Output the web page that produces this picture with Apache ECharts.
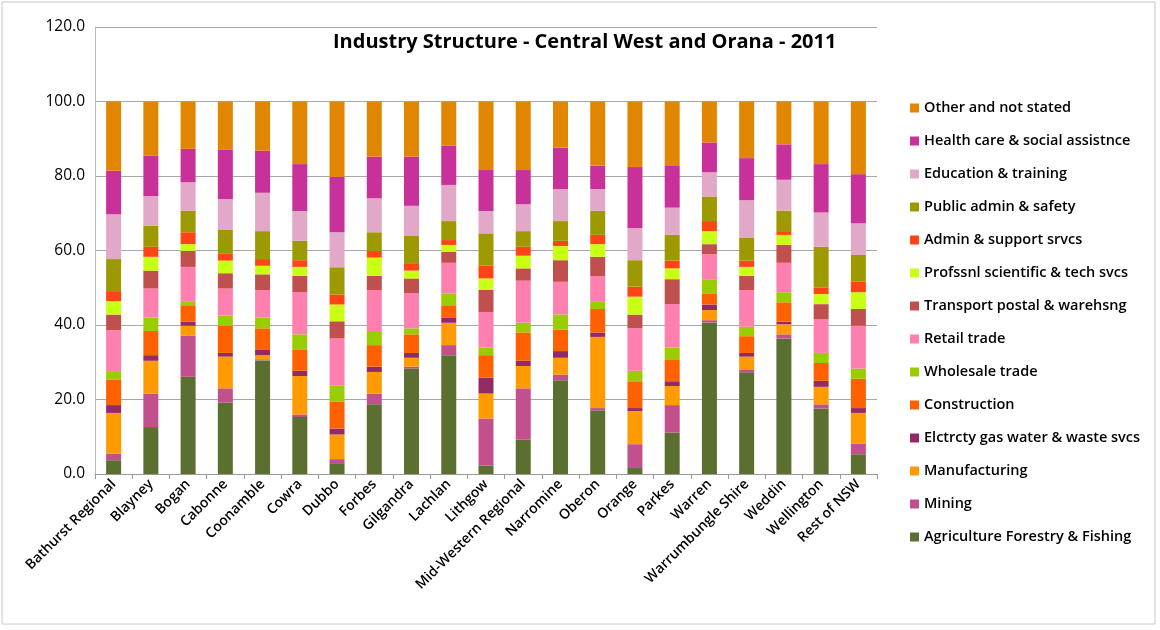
<!DOCTYPE html>
<html><head><meta charset="utf-8">
<script src="https://cdn.jsdelivr.net/npm/echarts@6/dist/echarts.min.js"></script>
<style>html,body{margin:0;padding:0;background:#fff}#c{width:1160px;height:630px}</style>
</head><body><div id="c"></div>
<script>
const categories = ["Bathurst Regional","Blayney","Bogan","Cabonne","Coonamble","Cowra","Dubbo","Forbes","Gilgandra","Lachlan","Lithgow","Mid-Western Regional","Narromine","Oberon","Orange","Parkes","Warren","Warrumbungle Shire","Weddin","Wellington","Rest of NSW"];
const seriesNames = ["Agriculture Forestry & Fishing","Mining","Manufacturing","Elctrcty gas water & waste svcs","Construction","Wholesale trade","Retail trade","Transport postal & warehsng","Profssnl scientific & tech svcs","Admin & support srvcs","Public admin & safety","Education & training","Health care & social assistnce","Other and not stated"];
const agri = [3.7,12.6,26.1,19.2,30.5,15.3,2.9,18.7,28.3,31.9,2.3,9.2,25.2,17.1,1.6,11.1,40.7,27.3,36.4,17.6,5.3];
const mining = [1.8,9.0,11.0,3.8,0.3,0.7,1.1,2.9,0.5,2.7,12.6,13.8,1.5,0.6,6.4,7.4,0.6,0.8,1.1,1.1,2.9];
const manuf = [10.9,8.8,2.7,8.5,1.1,10.3,6.6,5.8,2.4,6.0,6.7,6.0,4.5,19.1,8.9,5.1,2.7,3.4,2.7,4.7,8.2];
const elec = [2.1,1.5,1.1,1.0,1.4,1.4,1.6,1.4,1.3,1.3,4.3,1.4,1.8,1.2,0.8,1.3,1.5,1.0,0.7,1.6,1.3];
const constr = [6.9,6.5,4.4,7.3,5.8,5.6,7.3,5.8,5.0,3.4,6.0,7.6,5.8,6.3,7.2,5.9,3.0,4.5,5.2,4.8,7.9];
const wholesale = [2.0,3.6,0.9,2.7,2.9,4.2,4.2,3.8,1.6,3.2,2.0,2.6,4.0,2.1,2.8,3.1,3.8,2.5,2.7,2.7,2.7];
const retail = [11.2,7.8,9.4,7.3,7.4,11.3,12.7,11.0,9.4,8.2,9.6,11.3,8.8,6.7,11.4,11.7,6.7,9.9,7.9,9.0,11.5];
const transport = [4.2,4.8,4.3,4.1,4.2,4.4,4.6,3.8,4.0,3.0,5.9,3.3,5.8,5.2,3.7,6.7,2.7,3.8,4.8,4.1,4.5];
const prof = [3.6,3.7,1.8,3.4,2.3,2.4,4.5,4.9,2.1,1.8,3.1,3.4,3.8,3.4,4.8,2.9,3.5,2.4,2.7,2.7,4.5];
const admin = [2.7,2.7,3.2,1.8,1.8,1.8,2.7,1.8,2.0,1.3,3.4,2.4,1.4,2.5,2.7,2.1,2.7,1.7,1.0,1.8,2.8];
const publicAdmin = [8.6,5.7,5.8,6.4,7.5,5.2,7.3,5.0,7.3,5.1,8.7,4.2,5.3,6.5,7.1,6.9,6.6,6.2,5.5,10.9,7.2];
const education = [12.0,7.9,7.6,8.3,10.3,8.0,9.4,9.1,8.1,9.7,6.0,7.2,8.6,5.8,8.6,7.3,6.5,10.0,8.3,9.2,8.5];
const health = [11.7,10.9,9.0,13.2,11.3,12.6,14.9,11.2,13.2,10.6,11.0,9.2,11.1,6.3,16.4,11.2,8.0,11.3,9.5,13.0,13.2];
const other = [18.6,14.5,12.7,13.0,13.2,16.8,20.2,14.8,14.8,11.8,18.4,18.4,12.4,17.2,17.6,17.3,11.0,15.2,11.5,16.8,19.5];
const yTicks = [0,20,40,60,80,100,120];

const allData = [agri,mining,manuf,elec,constr,wholesale,retail,transport,prof,admin,publicAdmin,education,health,other];
const colors = ["#5b6f30","#c2508d","#ff9a00","#922a64","#ff6000","#9acd00","#ff7fae","#c0504d","#c8ff14","#ff4515","#9c9a00","#e2a8c8","#c8309a","#e08600"];
const font = "'Open Sans', 'Liberation Sans', sans-serif";

const chart = echarts.init(document.getElementById('c'));
chart.setOption({
  animation: false,
  color: colors,
  title: {
    text: 'Industry Structure - Central West and Orana - 2011',
    left: 328, top: 27,
    textStyle: {fontFamily: font, fontSize: 20, fontWeight: 'bold', color: '#000'}
  },
  graphic: [{type: 'rect', shape: {x: 2, y: 2, width: 1153, height: 622}, style: {fill: 'none', stroke: '#c8c8c8', lineWidth: 1}, silent: true}],
  legend: {
    orient: 'vertical', left: 905, top: 95,
    data: seriesNames.slice().reverse(),
    icon: 'rect', itemWidth: 9, itemHeight: 9, itemGap: 17,
    textStyle: {fontFamily: font, fontSize: 14.5, fontWeight: 600, color: '#000', lineHeight: 16}
  },
  grid: {left: 95, right: 283, top: 27, bottom: 156},
  xAxis: {
    type: 'category', data: categories,
    axisLine: {lineStyle: {color: '#999'}},
    axisTick: {show: true, alignWithLabel: false, length: 5, lineStyle: {color: '#999'}},
    axisLabel: {rotate: 45, interval: 0, fontFamily: font, fontSize: 14, fontWeight: 600, color: '#000', margin: 8}
  },
  yAxis: {
    type: 'value', min: 0, max: 120, interval: 20,
    axisLine: {show: true, lineStyle: {color: '#bbb'}},
    axisTick: {show: false},
    splitLine: {lineStyle: {color: '#a8a8a8'}},
    axisLabel: {fontFamily: font, fontSize: 15.5, color: '#000', margin: 10, formatter: v => yTicks.includes(v) ? v.toFixed(1) : ''}
  },
  series: seriesNames.map((n, i) => ({
    name: n, type: 'bar', stack: 'total', data: allData[i], barWidth: 15,
    itemStyle: {color: colors[i]}
  }))
});
</script></body></html>
